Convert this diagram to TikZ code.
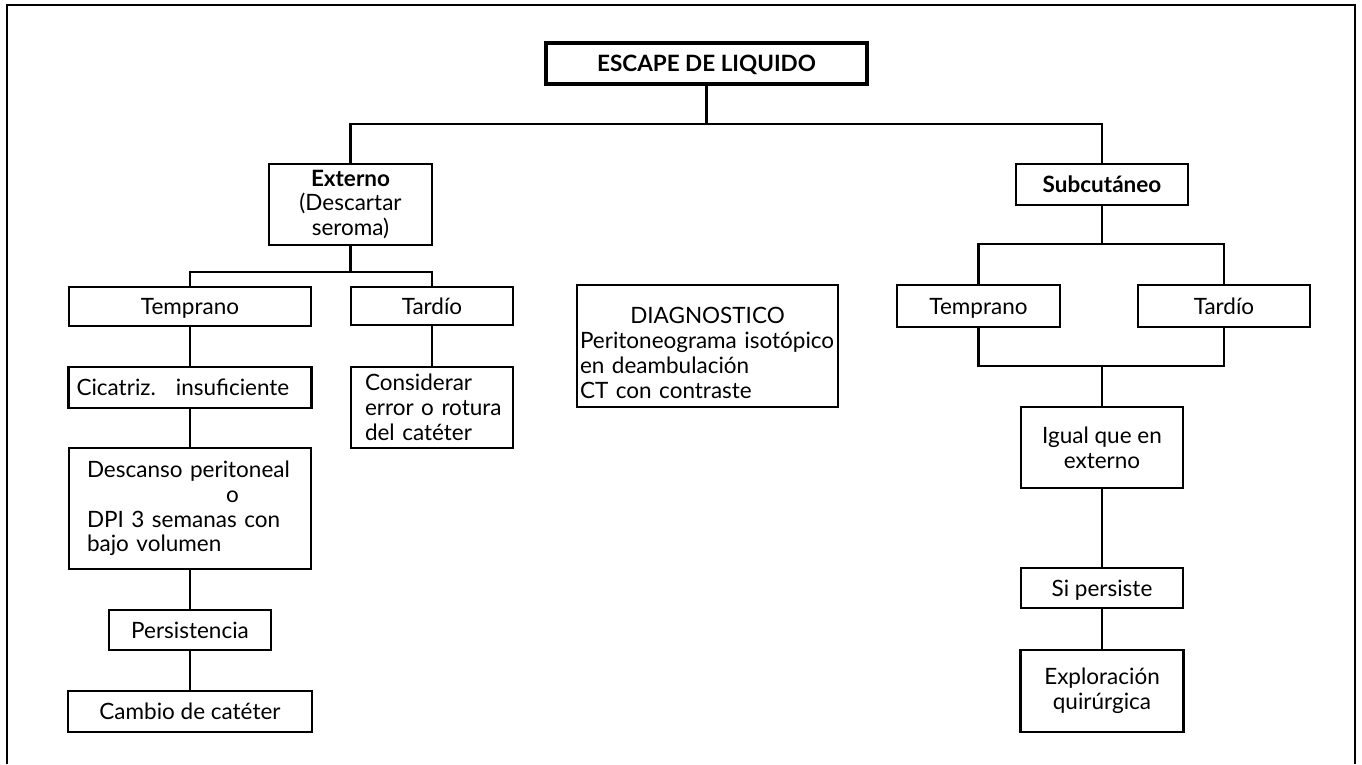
\documentclass[tikz,border=0pt]{standalone}
\usepackage{fontspec}
\setmainfont{Lato}
\begin{document}
\begin{tikzpicture}[x=1pt,y=-1pt,
  every node/.style={font=\fontsize{22.5}{24.8}\selectfont},
  box/.style={draw, line width=2.2pt, inner sep=0pt, align=center},
  onebox/.style={box, text height=16pt, text depth=0pt},
  textbox/.style={draw, line width=2.2pt, inner ysep=0pt, align=left},
  link/.style={line width=2.2pt}]
\useasboundingbox (0,0) rectangle (1362,764);
% outer frame, open at the bottom
\draw[line width=2.6pt] (7,764) -- (7,5) -- (1355,5) -- (1355,764);

% root
\node[onebox, line width=3.2pt, minimum width=321pt, minimum height=41pt] (root) at (706.5,63.5)
  {\bfseries ESCAPE DE LIQUIDO};

% level 1
\node[box, minimum width=163pt, minimum height=81pt] (ext) at (350.5,204.5)
  {\bfseries Externo\\(Descartar\\seroma)};
\node[onebox, minimum width=172pt, minimum height=41pt] (sub) at (1102,184.5)
  {\bfseries Subcutáneo};

% external branch
\node[onebox, minimum width=242pt, minimum height=39pt] (tempL) at (190,306.5) {Temprano};
\node[onebox, minimum width=162pt, minimum height=38pt] (tardL) at (432,306) {Tardío};
\node[textbox, text height=16pt, text depth=0pt, minimum height=41pt, inner xsep=8pt, text width=227pt] (cic) at (190,387.5)
  {\mbox{Cicatriz.\hspace{20pt}insuficiente}};
\node[textbox, minimum height=81pt, inner xsep=14pt, text width=134pt] (cons) at (432,407.5)
  {\mbox{Considerar}\\\mbox{error o rotura}\\\mbox{del catéter}};
\node[textbox, minimum height=121pt, inner xsep=18pt, text width=206pt] (desc) at (190,508.5)
  {\mbox{Descanso peritoneal}\\\hspace*{139pt}o\\\mbox{DPI 3 semanas con}\\\mbox{bajo volumen}};
\node[onebox, minimum width=162pt, minimum height=40pt] (pers) at (190,630) {Persistencia};
\node[onebox, minimum width=244pt, minimum height=41pt] (camb) at (190,711.5) {Cambio de catéter};

% diagnostic panel
\node[textbox, minimum height=122pt, inner xsep=3pt, text width=255pt] (diag) at (707.5,346)
  {\rule{0pt}{30pt}\hfill DIAGNOSTICO\hfill\null\\\mbox{Peritoneograma isotópico}\\\mbox{en deambulación}\\\mbox{CT con contraste}};

% subcutaneous branch
\node[onebox, minimum width=163pt, minimum height=42pt] (tempR) at (978.5,306) {Temprano};
\node[onebox, minimum width=172pt, minimum height=42pt] (tardR) at (1224,306) {Tardío};
\node[box, minimum width=162pt, minimum height=81pt] (igual) at (1102,447.5)
  {Igual que en\\externo};
\node[onebox, minimum width=162pt, minimum height=40pt] (si) at (1102,588) {Si persiste};
\node[box, minimum width=163pt, minimum height=82pt] (expl) at (1102,691)
  {Exploración\\quirúrgica};

% junction points of the connectors
\coordinate (busA) at (706.5,124);
\coordinate (busB) at (350.5,272);
\coordinate (busC) at (1102,244);
\coordinate (busD) at (1102,366);

% connectors
\draw[link] (root.south) -- (busA);
\draw[link] (ext.north) |- (busA) -| (sub.north);
\draw[link] (ext.south) -- (busB);
\draw[link] (tempL.north) |- (busB) -| (tardL.north);
\draw[link] (tempL.south) -- (cic.north);
\draw[link] (cic.south) -- (desc.north);
\draw[link] (desc.south) -- (pers.north);
\draw[link] (pers.south) -- (camb.north);
\draw[link] (tardL.south) -- (cons.north);
\draw[link] (sub.south) -- (busC);
\draw[link] (tempR.north) |- (busC) -| (tardR.north);
\draw[link] (tempR.south) |- (busD) -| (tardR.south);
\draw[link] (busD) -- (igual.north);
\draw[link] (igual.south) -- (si.north);
\draw[link] (si.south) -- (expl.north);
\end{tikzpicture}
\end{document}
